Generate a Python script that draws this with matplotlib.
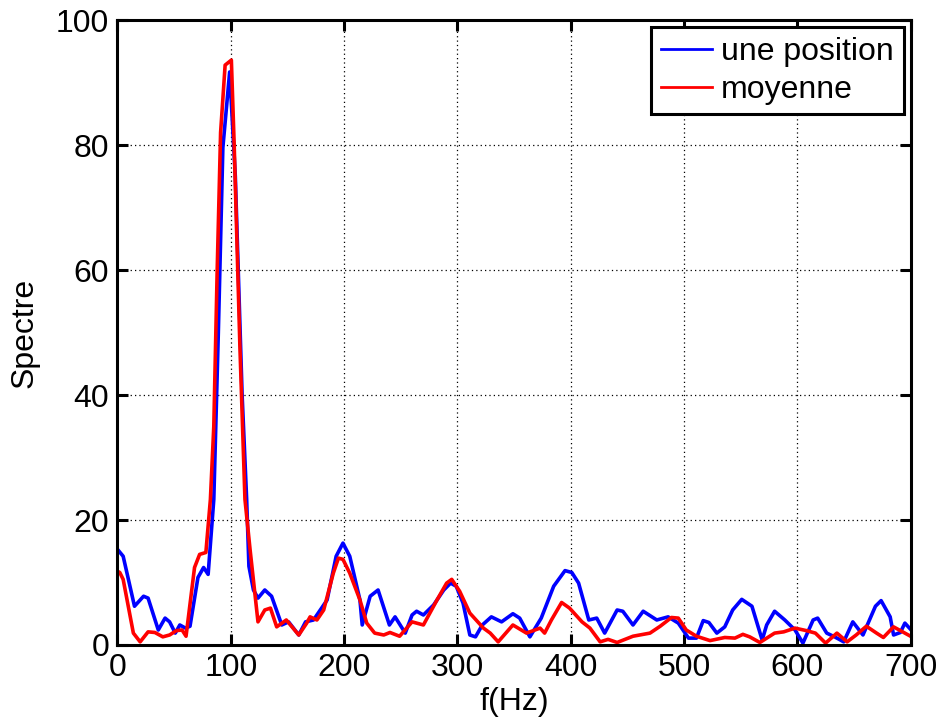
"""Spectre: une position vs moyenne."""
import matplotlib
matplotlib.use('Agg')
import matplotlib.pyplot as plt
from matplotlib.lines import Line2D

plt.rcParams['font.family'] = ['Liberation Sans', 'DejaVu Sans']

f_pos = [0, 5, 15, 23, 27, 36, 42, 46, 51, 55, 60, 64, 71, 76, 80, 85, 89, 93,
         99, 104, 110, 114, 116, 120, 124, 130, 136, 145, 151, 160, 166, 173,
         185, 193, 199, 205, 214, 216, 223, 230, 240, 245, 254, 260, 264, 270,
         279, 288, 294, 299, 305, 311, 316, 322, 330, 339, 349, 355, 364, 374,
         385, 395, 401, 407, 416, 423, 430, 441, 446, 455, 464, 476, 486, 495,
         504, 511, 517, 522, 529, 536, 543, 551, 560, 569, 573, 580, 589, 598,
         605, 614, 618, 626, 633, 641, 649, 658, 669, 674, 682, 685, 691, 695,
         700]
une_position = [15.3, 14.2, 6.2, 7.8, 7.5, 2.4, 4.3, 3.7, 1.9, 3.2, 2.7, 3.0,
                10.8, 12.4, 11.3, 23.3, 50, 79.6, 91.7, 75, 40, 23.3, 12.6, 8.8,
                7.5, 8.8, 7.8, 3.2, 3.7, 1.6, 3.7, 4.0, 7.2, 14.2, 16.3, 14.2,
                7.2, 3.2, 7.8, 8.8, 3.2, 4.5, 1.9, 4.8, 5.4, 4.8, 6.4, 8.8, 9.9,
                9.4, 6.7, 1.6, 1.3, 3.2, 4.5, 3.7, 5.0, 4.3, 1.3, 4.3, 9.4,
                11.9, 11.6, 9.9, 4.0, 4.3, 1.9, 5.6, 5.4, 3.2, 5.4, 4.0, 4.5,
                3.5, 1.1, 1.1, 3.9, 3.6, 1.9, 2.9, 5.6, 7.3, 6.2, 0.8, 3.2, 5.4,
                4.0, 2.4, 0.3, 4.0, 4.3, 1.9, 1.3, 0.5, 3.7, 1.6, 6.2, 7.1, 4.5,
                1.6, 2.0, 3.5, 2.5]

f_moy = [0, 2, 5, 14, 20, 27, 33, 40, 46, 52, 57, 60.5, 68, 72.5, 78, 82, 85,
         88, 91, 95, 100.5, 103, 108, 112.5, 117, 124, 130, 135, 140.5, 149,
         160, 167, 170, 176, 182, 190.5, 195, 199, 205, 214, 220, 227, 235,
         240.5, 249, 260, 270, 282, 290.5, 295, 302, 311, 323, 329, 336, 349,
         361, 373, 377, 383, 392, 399, 410, 417, 426, 433, 441, 455, 470, 479,
         489, 495, 502, 511, 523, 536, 545, 552, 558, 567, 580, 588, 598, 608,
         616, 625, 635, 644, 652, 661, 670, 676, 685, 691, 700]
moyenne = [11.8, 11.6, 10.5, 1.9, 0.5, 2.1, 2.0, 1.3, 1.6, 2.3, 2.4, 1.4, 12.4,
           14.5, 14.8, 23.3, 35, 60, 82, 92.8, 93.6, 80, 48, 23.3, 15.3, 3.7,
           5.6, 5.9, 2.9, 4.0, 1.6, 3.5, 4.5, 4.0, 5.6, 11.5, 13.9, 13.7, 11.5,
           7.2, 3.5, 1.9, 1.6, 2.0, 1.4, 3.7, 3.2, 7.2, 9.9, 10.5, 8.6, 5.1,
           2.7, 1.9, 0.5, 3.2, 1.9, 2.7, 1.9, 4.0, 6.8, 5.9, 3.7, 2.7, 0.5,
           0.9, 0.4, 1.4, 1.9, 3.0, 4.4, 4.3, 2.4, 1.4, 0.7, 1.2, 1.1, 1.7, 1.3,
           0.4, 1.9, 2.1, 2.7, 2.3, 1.9, 0.3, 1.9, 0.5, 1.6, 3.0, 1.9, 1.2, 2.9,
           2.3, 1.4]

fig = plt.figure(figsize=(9.43, 7.26), dpi=100)
ax = fig.add_axes([0.1246, 0.1116, 0.8410, 0.8607])

ax.plot(f_pos, une_position, color='#0000ff', lw=2.6)
ax.plot(f_moy, moyenne, color='#ff0000', lw=2.6)

ax.set_xlim(0, 700)
ax.set_ylim(0, 100)
ax.set_xticks(range(0, 701, 100))
ax.set_yticks(range(0, 101, 20))
ax.grid(True, color='black', linestyle=(0, (1, 2.5)), linewidth=0.9)
ax.tick_params(direction='in', length=8, width=2.2, labelsize=23, pad=6,
               top=True, right=True)
for s in ax.spines.values():
    s.set_linewidth(2.2)

ax.set_xlabel('f(Hz)', fontsize=23, labelpad=3)
ax.set_ylabel('Spectre', fontsize=23, labelpad=12)

handles = [Line2D([], [], color='#0000ff', lw=2),
           Line2D([], [], color='#ff0000', lw=2)]
leg = ax.legend(handles, ['une position', 'moyenne'], loc='upper right',
                fontsize=23, fancybox=False, framealpha=1, edgecolor='black',
                handlelength=1.6, handletextpad=0.3, borderpad=0.3,
                labelspacing=0.25, borderaxespad=0.22)
leg.get_frame().set_linewidth(2.2)

fig.savefig('out.png', dpi=100)
